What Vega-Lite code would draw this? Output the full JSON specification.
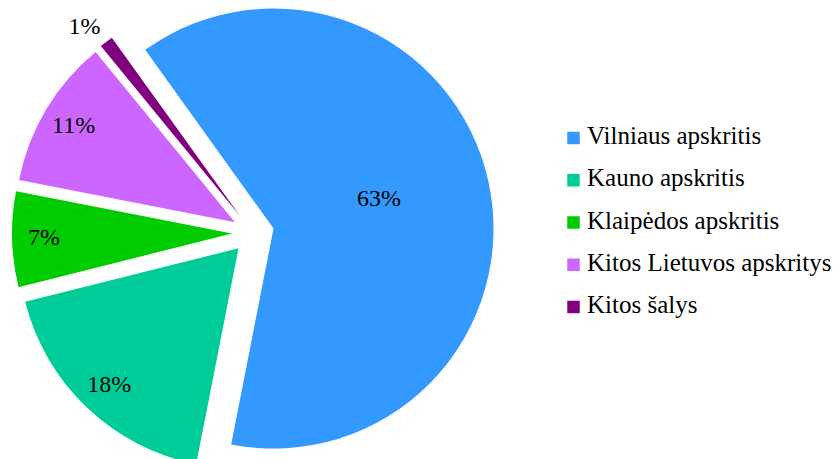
{
  "$schema": "https://vega.github.io/schema/vega-lite/v6.json",
  "padding": 0,
  "autosize": {"type": "pad"},
  "background": "white",
  "spacing": 61,
  "config": {
    "view": {"stroke": null},
    "font": "Liberation Serif"
  },
  "data": {
    "values": [
      {"region": "Vilniaus apskritis", "share": 63, "label": "63%", "idx": 1},
      {"region": "Kauno apskritis", "share": 18, "label": "18%", "idx": 2},
      {"region": "Klaipėdos apskritis", "share": 7, "label": "7%", "idx": 3},
      {"region": "Kitos Lietuvos apskritys", "share": 11, "label": "11%", "idx": 4},
      {"region": "Kitos šalys", "share": 1, "label": "1%", "idx": 5}
    ]
  },
  "hconcat": [
    {
      "width": 506,
      "height": 466,
      "encoding": {
        "theta": {"field": "share", "type": "quantitative", "stack": true, "scale": {"range": [-0.623, 5.660]}},
        "order": {"field": "idx", "type": "quantitative"}
      },
      "layer": [
        {
          "mark": {
            "type": "arc",
            "outerRadius": 220,
            "xOffset": {"expr": "21*sin(-0.623 + PI*(datum.share_start + datum.share_end)/100)"},
            "yOffset": {"expr": "-21*cos(-0.623 + PI*(datum.share_start + datum.share_end)/100)"}
          },
          "encoding": {
            "color": {
              "field": "region",
              "type": "nominal",
              "sort": null,
              "scale": {
                "domain": ["Vilniaus apskritis", "Kauno apskritis", "Klaipėdos apskritis", "Kitos Lietuvos apskritys", "Kitos šalys"],
                "range": ["#3399FF", "#00CC99", "#00CC00", "#CC66FF", "#800080"]
              },
              "legend": null
            }
          }
        },
        {
          "mark": {
            "type": "text",
            "font": "Liberation Serif",
            "fontSize": 24,
            "color": "black",
            "align": "center",
            "baseline": "middle",
            "radius": {"expr": "datum.share > 50 ? 108 : (datum.share < 5 ? 246 : 188)"},
            "xOffset": {"expr": "21*sin(-0.623 + PI*(datum.share_start + datum.share_end)/100) + (datum.share < 5 ? -6 : 0)"},
            "yOffset": {"expr": "-21*cos(-0.623 + PI*(datum.share_start + datum.share_end)/100) + (datum.share > 50 ? -7 : (datum.share < 5 ? 6 : 0))"}
          },
          "encoding": {
            "text": {"field": "label", "type": "nominal"}
          }
        }
      ]
    },
    {
      "width": 13,
      "height": 466,
      "encoding": {
        "y": {
          "field": "region",
          "type": "nominal",
          "sort": null,
          "scale": {"type": "point", "range": [138, 307], "padding": 0},
          "axis": null
        }
      },
      "layer": [
        {
          "mark": {"type": "square", "size": 156, "filled": true, "opacity": 1},
          "encoding": {
            "color": {
              "field": "region",
              "type": "nominal",
              "sort": null,
              "scale": {
                "domain": ["Vilniaus apskritis", "Kauno apskritis", "Klaipėdos apskritis", "Kitos Lietuvos apskritys", "Kitos šalys"],
                "range": ["#3399FF", "#00CC99", "#00CC00", "#CC66FF", "#800080"]
              },
              "legend": null
            }
          }
        },
        {
          "mark": {
            "type": "text",
            "font": "Liberation Serif",
            "fontSize": 25,
            "color": "black",
            "align": "left",
            "baseline": "alphabetic",
            "dx": 13.5,
            "dy": 6
          },
          "encoding": {
            "text": {"field": "region", "type": "nominal"}
          }
        }
      ]
    }
  ]
}
